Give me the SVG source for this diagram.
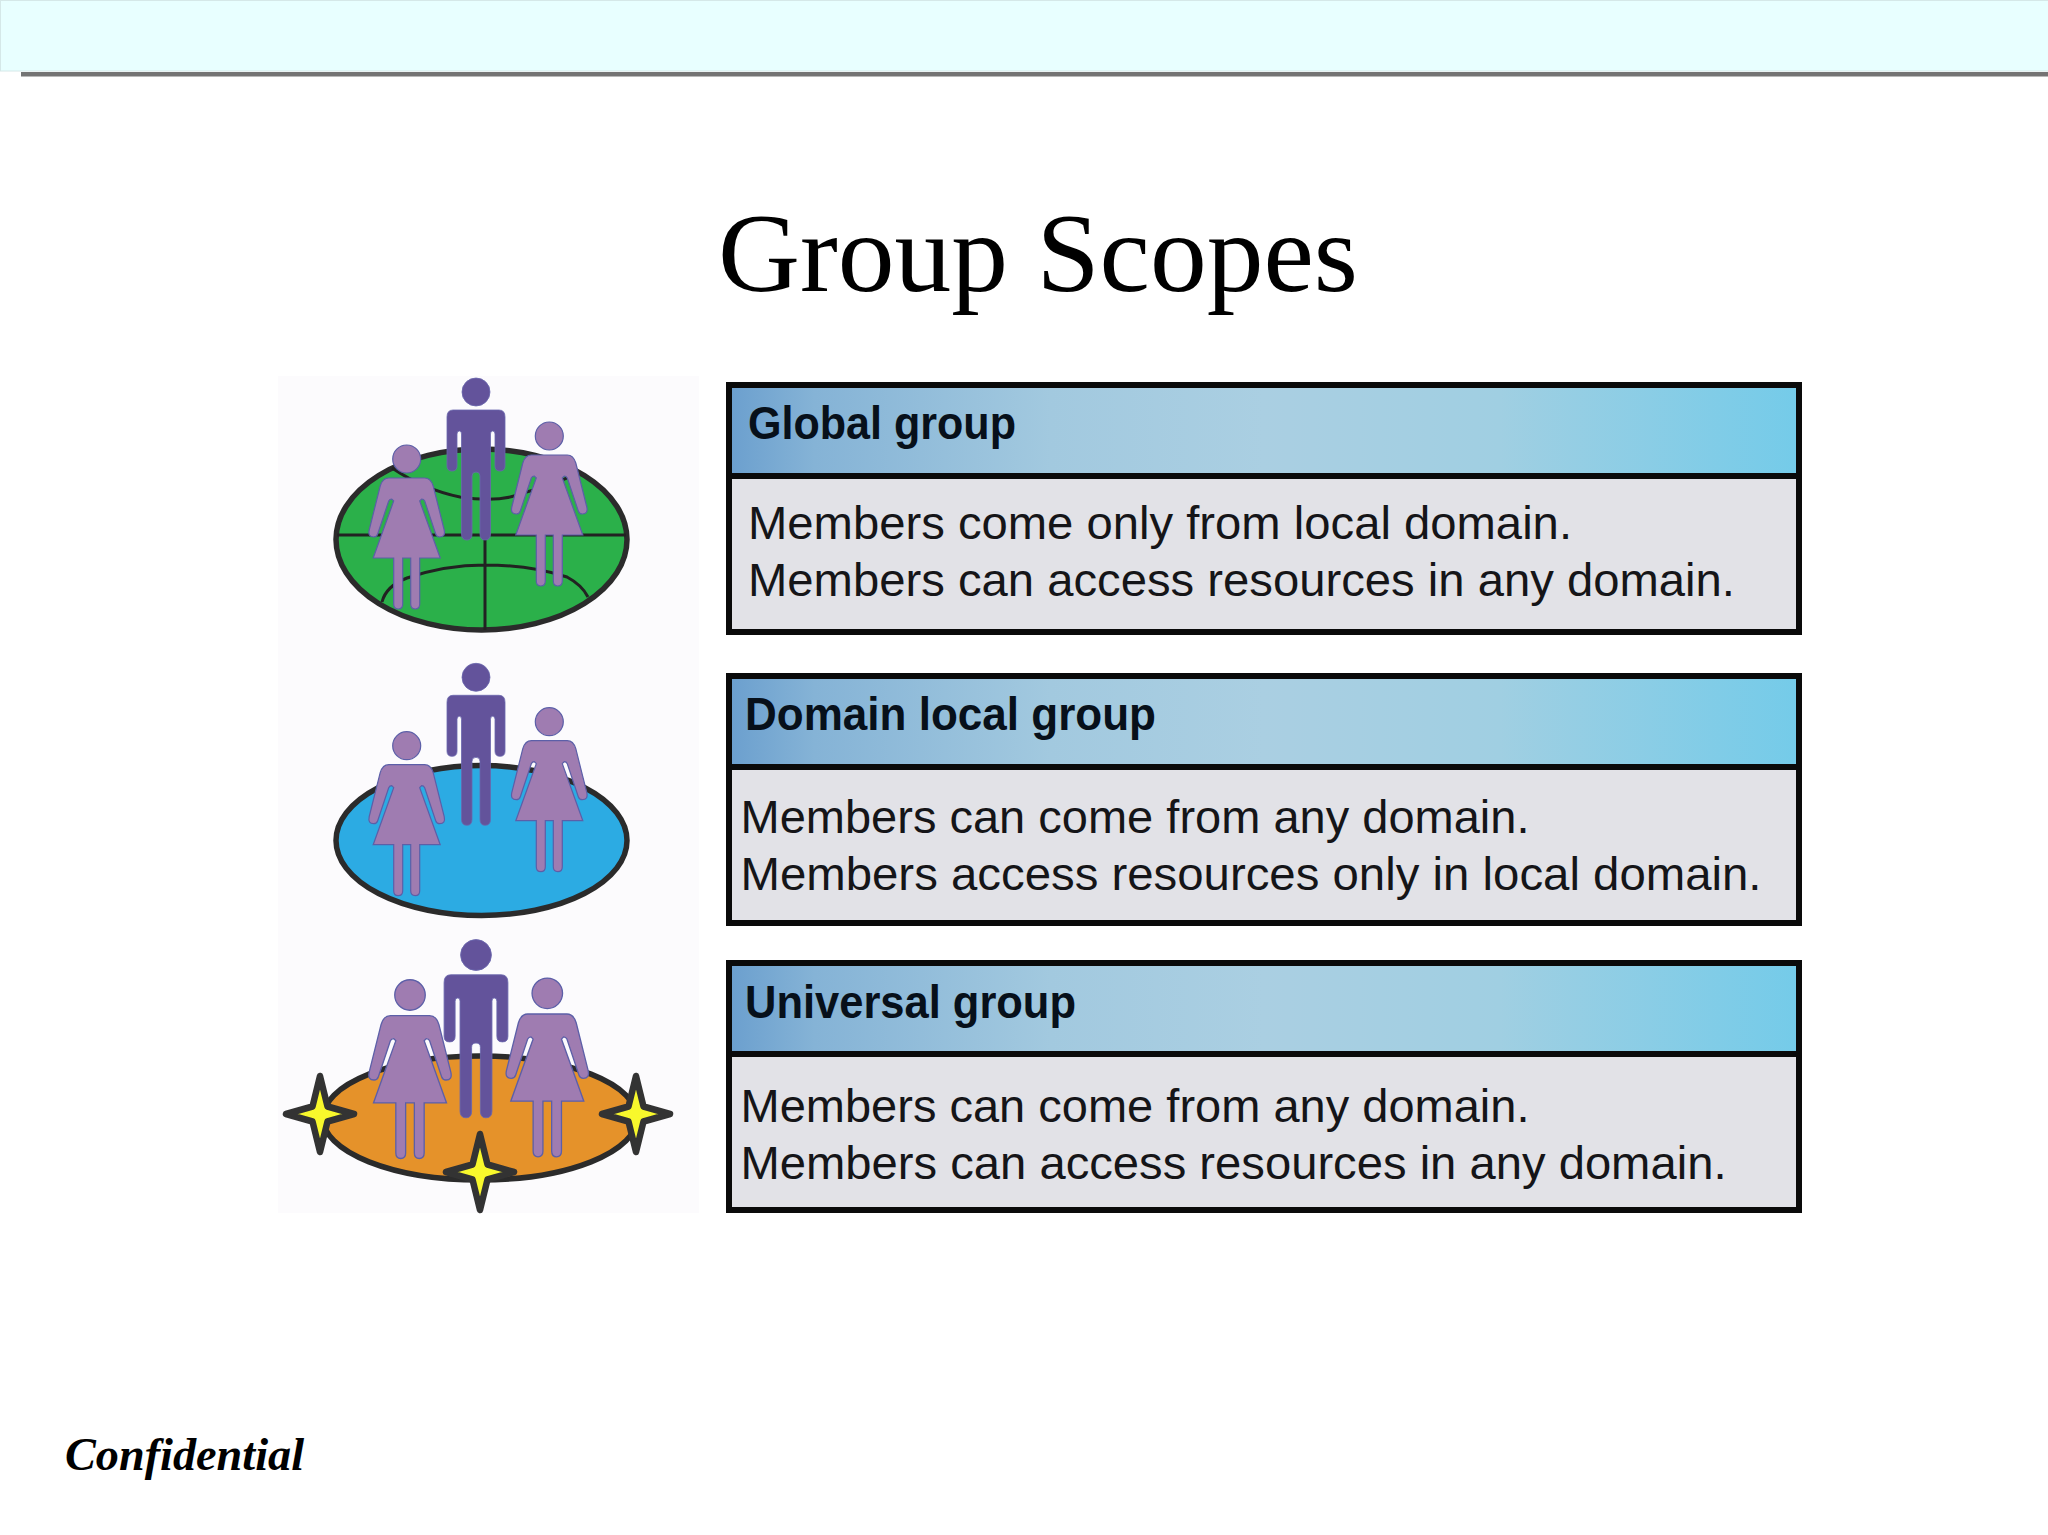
<svg xmlns="http://www.w3.org/2000/svg" xmlns:xlink="http://www.w3.org/1999/xlink" width="2048" height="1535" viewBox="0 0 2048 1535">
<defs>
<linearGradient id="hdr" x1="0" y1="0" x2="1" y2="0">
<stop offset="0" stop-color="#6b9fce"/><stop offset="0.08" stop-color="#85b3d6"/><stop offset="0.3" stop-color="#a2c9df"/><stop offset="0.5" stop-color="#aacfe2"/><stop offset="0.72" stop-color="#a0cfe2"/><stop offset="1" stop-color="#74cbe9"/>
</linearGradient>
<path id="man" d="M-23 18H23Q29 18 29 25V74Q29 79 24 79Q19 79 19 74V42Q19 39 16.500 39Q14.500 39 14.500 42V142Q14.500 148 9 148Q4 148 4 142V84Q4 80 0 80Q-4 80 -4 84V142Q-4 148 -9 148Q-14.500 148 -14.500 142V42Q-14.500 39 -16.500 39Q-19 39 -19 42V74Q-19 79 -24 79Q-29 79 -29 74V25Q-29 18 -23 18Z"/>
<path id="woman" d="M-18 19H18Q24 19 26.500 27L37.500 71Q39 78 33 78Q30 78 29 75L18 42Q17 40 15 40L13 42L33.500 99H13V145Q13 150 8.500 150Q4 150 4 145V99H-4V145Q-4 150 -8.500 150Q-13 150 -13 145V99H-33.500L-13 42L-15 40Q-17 40 -18 42L-29 75Q-30 78 -33 78Q-39 78 -37.500 71L-26.500 27Q-24 19 -18 19Z"/>
<path id="star" d="M0 -38L7.500 -7.500L34 0L7.500 7.500L0 38L-7.500 7.500L-34 0L-7.500 -7.500Z"/>
<g id="manFig"><circle class="mh" cx="0" cy="0" r="14"/><use xlink:href="#man" href="#man" class="mb"/></g>
<g id="womanFig"><circle class="wf" cx="0" cy="0" r="14"/><use xlink:href="#woman" href="#woman" class="wf"/></g>
</defs>
<style>
.mh,.mb{fill:#63539b;stroke:#6a67ad;stroke-width:.8}
.wf{fill:#9f7cb1;stroke:#5c5fa8;stroke-width:1.2}
.disc{stroke:#2b2b2b;stroke-width:5.500}
.geo{fill:none;stroke:#222;stroke-width:3}
.star{fill:#f8f82c;stroke:#333;stroke-width:6.500;stroke-linejoin:round}
.frame{fill:#e2e2e7;stroke:#0a0a0a;stroke-width:6}
.head{fill:url(#hdr);stroke:#0a0a0a;stroke-width:6}
.ht{font-family:"Liberation Sans",Arial,sans-serif;font-weight:700;font-size:46px;fill:#07101a}
.bt{font-family:"Liberation Sans",Arial,sans-serif;font-size:46px;fill:#151518}
</style>
<rect width="2048" height="1535" fill="#ffffff"/>
<g id="topbar">
<rect x="21" y="72" width="2027" height="4.500" fill="#747474"/>
<rect x="0.500" y="0.500" width="2048" height="70.500" fill="#e8ffff" stroke="#d5e8e8"/>
</g>
<text x="1038" y="291" text-anchor="middle" font-family="'Liberation Serif','Times New Roman',serif" font-size="113" fill="#000" textLength="640" lengthAdjust="spacingAndGlyphs">Group Scopes</text>
<g id="picture">
<rect x="278" y="376" width="421" height="837" fill="#fcfbfd"/>
<g id="global-icon">
<ellipse class="disc" cx="481.500" cy="539.500" rx="145.500" ry="90.500" fill="#2bb04a"/>
<path class="geo" d="M337 535H626M485 535V630M392 468Q425 490 460 497Q500 503 523 493Q555 485 577 473M382 602Q386 586 407 578Q445 565 485 565Q530 565 567 577Q582 585 588 597"/>
<use xlink:href="#manFig" href="#manFig" x="476" y="392"/>
<use xlink:href="#womanFig" href="#womanFig" x="406.700" y="459"/>
<use xlink:href="#womanFig" href="#womanFig" x="549.300" y="436"/>
</g>
<g id="domain-local-group-icon">
<ellipse class="disc" cx="481.500" cy="840.500" rx="145.500" ry="75" fill="#2cabe3"/>
<use xlink:href="#manFig" href="#manFig" x="476" y="677.300"/>
<use xlink:href="#womanFig" href="#womanFig" x="406.700" y="745.700"/>
<use xlink:href="#womanFig" href="#womanFig" x="549.300" y="721.700"/>
</g>
<g id="universal-icon">
<ellipse class="disc" cx="480" cy="1118" rx="157" ry="62" fill="#e5922a"/>
<use xlink:href="#manFig" href="#manFig" transform="translate(476 955) scale(1.100)"/>
<use xlink:href="#womanFig" href="#womanFig" transform="translate(410 995) scale(1.090)"/>
<use xlink:href="#womanFig" href="#womanFig" transform="translate(547.300 993.300) scale(1.090)"/>
<use xlink:href="#star" href="#star" class="star" x="320" y="1114"/>
<use xlink:href="#star" href="#star" class="star" x="636" y="1114"/>
<use xlink:href="#star" href="#star" class="star" x="480" y="1172"/>
</g>
</g>
<g id="global-group">
<rect class="frame" x="729" y="385" width="1070" height="247"/>
<rect class="head" x="729" y="385" width="1070" height="91"/>
<text class="ht" x="748" y="439" textLength="268" lengthAdjust="spacingAndGlyphs">Global group</text>
<text class="bt" x="748" y="539" textLength="824" lengthAdjust="spacingAndGlyphs">Members come only from local domain.</text>
<text class="bt" x="748" y="596" textLength="987" lengthAdjust="spacingAndGlyphs">Members can access resources in any domain.</text>
</g>
<g id="domain-local-group">
<rect class="frame" x="729" y="676" width="1070" height="247"/>
<rect class="head" x="729" y="676" width="1070" height="91"/>
<text class="ht" x="745" y="730" textLength="411" lengthAdjust="spacingAndGlyphs">Domain local group</text>
<text class="bt" x="740.500" y="833" textLength="789" lengthAdjust="spacingAndGlyphs">Members can come from any domain.</text>
<text class="bt" x="740.500" y="890" textLength="1021" lengthAdjust="spacingAndGlyphs">Members access resources only in local domain.</text>
</g>
<g id="universal-group">
<rect class="frame" x="729" y="963" width="1070" height="247"/>
<rect class="head" x="729" y="963" width="1070" height="91"/>
<text class="ht" x="745" y="1018" textLength="331" lengthAdjust="spacingAndGlyphs">Universal group</text>
<text class="bt" x="740.500" y="1122" textLength="789" lengthAdjust="spacingAndGlyphs">Members can come from any domain.</text>
<text class="bt" x="740.500" y="1179" textLength="986" lengthAdjust="spacingAndGlyphs">Members can access resources in any domain.</text>
</g>
<text x="65" y="1470" font-family="'Liberation Serif','Times New Roman',serif" font-weight="700" font-style="italic" font-size="46" fill="#000" textLength="239" lengthAdjust="spacingAndGlyphs">Confidential</text>
</svg>
